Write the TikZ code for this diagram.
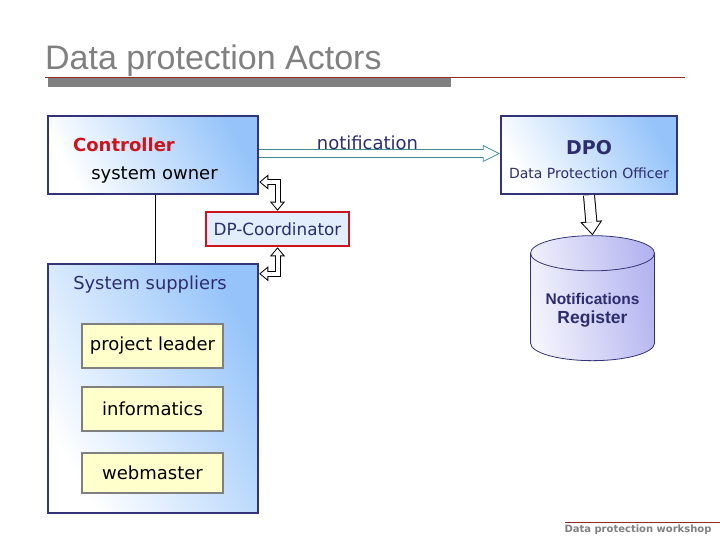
\documentclass[tikz,border=0pt]{standalone}
\usepackage{fontspec}
\setmainfont{DejaVu Sans}
\newfontfamily\arialfont{Liberation Sans}
\usetikzlibrary{arrows.meta,shapes.geometric}
\definecolor{navy}{RGB}{51,51,119}
\definecolor{navytext}{RGB}{45,45,110}
\definecolor{lightblue}{RGB}{150,196,250}
\definecolor{coordfill}{RGB}{226,238,252}
\definecolor{boxred}{RGB}{204,20,30}
\definecolor{paleyellow}{RGB}{255,255,204}
\definecolor{arrowteal}{RGB}{60,140,150}
\definecolor{regblue}{RGB}{180,180,240}
\definecolor{darkred}{RGB}{150,40,40}
\begin{document}
\begin{tikzpicture}[x=1pt,y=-1pt,
  actor/.style={draw=navy,line width=2.5pt,left color=white,right color=lightblue,shading angle=120},
  member/.style={draw=gray,line width=2.5pt,fill=paleyellow,minimum width=141pt,font=\fontsize{18}{20}\selectfont},
  notifarrow/.style={draw=arrowteal,line width=9pt,arrows={-Triangle[length=17pt,width=17pt,line width=0pt]},
    postaction={draw=white,line width=7.4pt,shorten >=1.79pt,arrows={-Triangle[length=14.41pt,width=14.41pt,line width=0pt]}}},
  downarrow/.style={draw=black,line width=12pt,arrows={-Triangle[length=14pt,width=22pt,line width=0pt]},
    postaction={draw=white,line width=10pt,shorten >=1.62pt,arrows={-Triangle[length=11.38pt,width=17.9pt,line width=0pt]}}},
  elbowout/.style={draw=black,line width=6pt,line cap=rect,arrows={-Triangle[length=9pt,width=15pt,line width=0pt]}},
  elbowin/.style={draw=white,line width=4pt,line cap=rect,shorten >=1.56pt,arrows={-Triangle[length=6.44pt,width=10.7pt,line width=0pt]}}]
  \useasboundingbox (0,0) rectangle (720,540);
  % title
  \node[anchor=base west,inner sep=0,text=gray,font=\arialfont\fontsize{34}{38}\selectfont] (title) at (45,70) {Data protection Actors};
  \fill[gray] (48,78) rectangle (451,87);
  \draw[darkred,line width=0.6pt] (45,77) -- (685,77);
  % boxes
  \node[actor,minimum width=210pt,minimum height=78pt] (ctrl) at (153,155) {};
  \node[actor,minimum width=176pt,minimum height=78pt] (dpo) at (589,155) {};
  \node[actor,minimum width=210pt,minimum height=249pt] (supp) at (153,388.5) {};
  \node[draw=boxred,line width=2.5pt,fill=coordfill,minimum width=143pt,minimum height=34pt,
    text=navytext,font=\fontsize{16.8}{18}\selectfont] (coord) at (277.5,229) {DP-Coordinator};
  \node[cylinder,shape border rotate=90,aspect=0.35,draw=navy,line width=0.8pt,
    left color=white!85!regblue,right color=regblue,shading angle=100,
    minimum width=124pt,minimum height=125pt,align=center,text=navytext,
    font=\arialfont\bfseries] (reg) at (592.5,310)
    {\fontsize{15.5}{18}\selectfont Notifications\\[5pt]\fontsize{17.5}{18}\selectfont Register};
  % texts
  \node[text=boxred,font=\bfseries\fontsize{18}{20}\selectfont] (ctrlname) at (124,145) {Controller};
  \node[font=\fontsize{18}{20}\selectfont] (owner) at (154.5,175) {system owner};
  \node[text=navytext,font=\bfseries\fontsize{19}{20}\selectfont] (dponame) at (589,148) {DPO};
  \node[text=navytext,font=\fontsize{14}{16}\selectfont] (dpolong) at (589,173) {Data Protection Officer};
  \node[text=navytext,font=\fontsize{17.9}{20}\selectfont] (suppname) at (150,285) {System suppliers};
  \node[member,minimum height=44pt] (lead) at (152.5,346) {project leader};
  \node[member,minimum height=44pt] (info) at (152.5,409) {informatics};
  \node[member,minimum height=40pt] (web) at (152.5,473) {webmaster};
  % connectors
  \draw[notifarrow] ([yshift=1.5pt]ctrl.east) -- ([yshift=1.5pt]dpo.west)
    node[pos=0.45,above=-4pt,text=navytext,font=\fontsize{18}{20}\selectfont] (notif) {notification};
  \draw[downarrow] (dpo.south) -- (reg.north);
  \coordinate (ctrlport) at ([yshift=-27pt]ctrl.east);
  \coordinate (suppport) at ([yshift=-11pt]supp.north east);
  \coordinate (bendup) at (coord.north |- ctrlport);
  \coordinate (benddown) at (coord.south |- suppport);
  \foreach \b/\e in {bendup/ctrlport,bendup/coord.north,benddown/suppport,benddown/coord.south}
    \draw[elbowout] (\b) -- (\e);
  \foreach \b/\e in {bendup/ctrlport,bendup/coord.north,benddown/suppport,benddown/coord.south}
    \draw[elbowin] (\b) -- (\e);
  \draw[line width=0.6pt] ([xshift=2pt]ctrl.south) -- ([xshift=2pt]supp.north);
  % footer
  \draw[darkred,line width=0.6pt] (565,522) -- (720,522);
  \node[text=gray,font=\bfseries\fontsize{10}{11}\selectfont] (foot) at (638,530) {Data protection workshop};
\end{tikzpicture}
\end{document}
